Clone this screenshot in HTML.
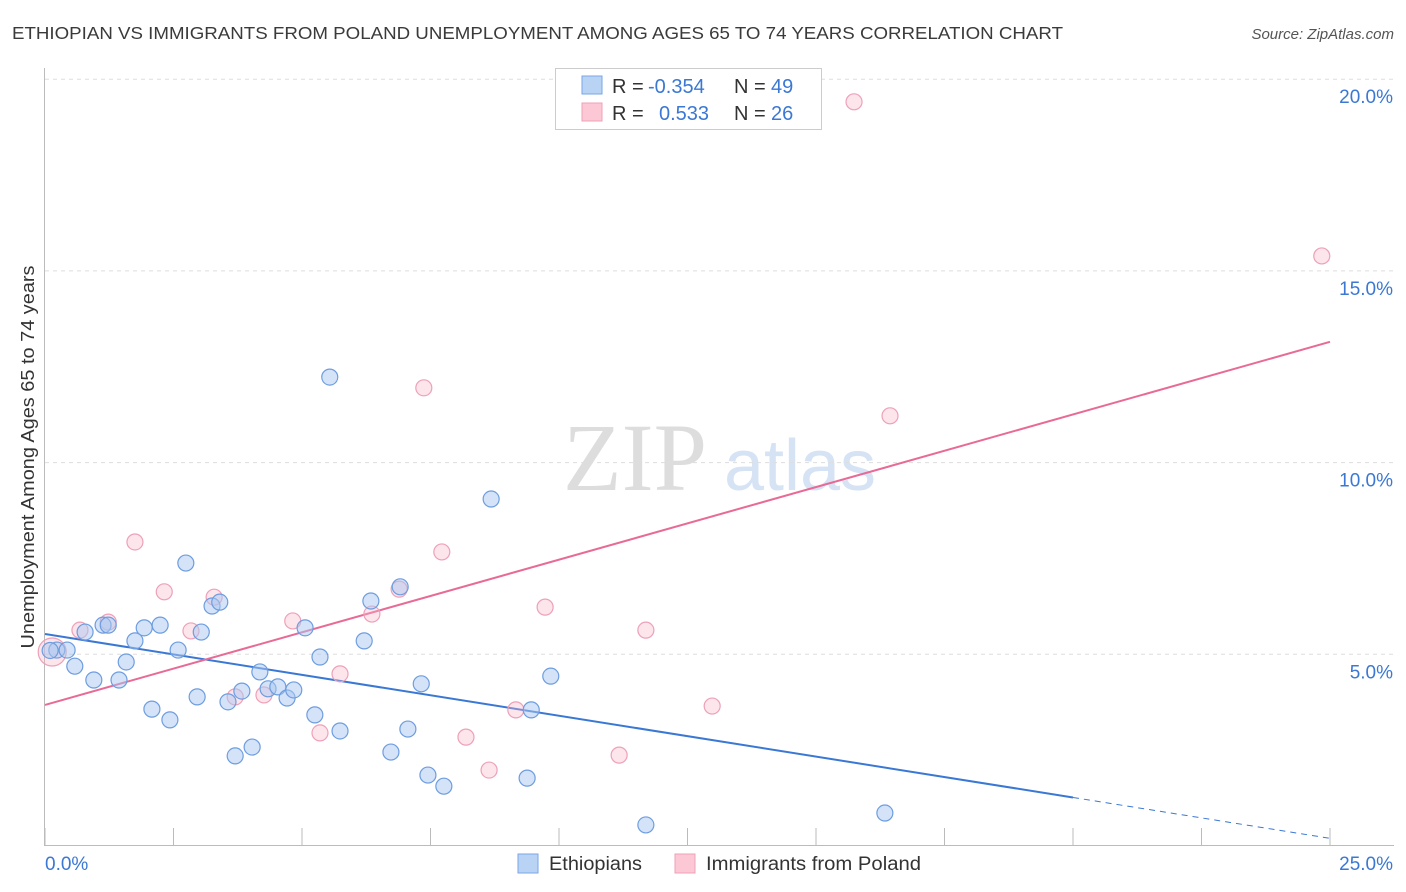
<!DOCTYPE html>
<html><head><meta charset="utf-8"><style>
body{margin:0;background:#fff;font-family:"Liberation Sans",sans-serif;}
svg{display:block}
</style></head><body>
<svg id="chart" width="1406" height="892" xmlns="http://www.w3.org/2000/svg">
<text x="12" y="39" font-size="17.5" fill="#3a3a3a" textLength="1051" lengthAdjust="spacingAndGlyphs">ETHIOPIAN VS IMMIGRANTS FROM POLAND UNEMPLOYMENT AMONG AGES 65 TO 74 YEARS CORRELATION CHART</text>
<text x="1394" y="39" font-size="15" fill="#555" text-anchor="end" font-style="italic">Source: ZipAtlas.com</text>
<text x="635" y="490" font-size="96" fill="#ddd" text-anchor="middle" font-family="Liberation Serif,serif">ZIP</text>
<text x="800" y="490" font-size="72" fill="#d6e3f5" text-anchor="middle">atlas</text>
<g id="grid"></g><g id="axes"></g><g id="lines"></g><g id="pts"></g>
<text transform="translate(34,457) rotate(-90)" font-size="18" fill="#333" text-anchor="middle" textLength="383" lengthAdjust="spacingAndGlyphs">Unemployment Among Ages 65 to 74 years</text>
<g>
<rect x="555.5" y="68.5" width="266" height="61" fill="#fff" stroke="#ccc"/>
<rect x="582" y="76" width="20" height="18" fill="#b9d3f5" stroke="#7aa6e6"/>
<rect x="582" y="103" width="20" height="18" fill="#fdc8d6" stroke="#f0a0b8"/>
<text x="612" y="93" font-size="20" fill="#333">R = <tspan x="648" fill="#3a78d4">-0.354</tspan><tspan x="734">N = </tspan><tspan x="771" fill="#3a78d4">49</tspan></text>
<text x="612" y="120" font-size="20" fill="#333">R = <tspan x="659" fill="#3a78d4">0.533</tspan><tspan x="734">N = </tspan><tspan x="771" fill="#3a78d4">26</tspan></text>
</g>
<g>
<rect x="518" y="854" width="20" height="19" fill="#b9d3f5" stroke="#7aa6e6"/>
<text x="549" y="870" font-size="19" fill="#333" textLength="93" lengthAdjust="spacingAndGlyphs">Ethiopians</text>
<rect x="675" y="854" width="20" height="19" fill="#fdc8d6" stroke="#f0a0b8"/>
<text x="706" y="870" font-size="19" fill="#333" textLength="215" lengthAdjust="spacingAndGlyphs">Immigrants from Poland</text>
</g>
</svg>
<script>
const blueX=[0.23,0.43,0.58,0.78,0.95,1.13,1.23,1.44,1.58,1.75,1.93,2.08,2.24,2.43,2.59,2.74,2.96,3.04,3.25,3.40,3.56,3.70,3.83,4.03,4.18,4.34,4.53,4.71,4.84,5.06,5.25,5.35,5.54,5.74,6.21,6.34,6.73,6.91,7.06,7.32,7.45,7.76,8.68,9.38,9.46,9.84,11.69,16.34,0.1];
const blueY=[5.11,5.11,4.69,5.58,4.33,5.76,5.76,4.33,4.80,5.35,5.69,3.57,5.76,3.29,5.11,7.38,3.89,5.58,6.26,6.36,3.76,2.35,4.04,2.58,4.54,4.10,4.15,3.86,4.07,5.69,3.42,4.93,12.23,3.00,5.35,6.39,2.45,6.76,3.05,4.23,1.85,1.56,9.05,1.77,3.55,4.43,0.55,0.86,5.1];
const pinkX=[0.14,0.68,1.23,1.75,2.32,2.84,3.29,3.70,4.26,4.82,5.35,5.74,6.36,6.89,7.37,7.72,8.19,8.64,9.16,9.73,11.17,11.69,12.98,15.74,16.44,24.84];
const pinkY=[5.06,5.63,5.84,7.93,6.63,5.61,6.49,3.89,3.94,5.87,2.95,4.49,6.05,6.70,11.95,7.67,2.84,1.98,3.55,6.23,2.37,5.63,3.65,19.41,11.22,15.39];
const blueTrend=[5.53,-0.2132];
const pinkTrend=[3.68,0.3788];
const xTicks=[0,2.5,5,7.5,10,12.5,15,17.5,20,22.5,25];
const yTicks=[5,10,15,20];
const yTickLabels=["5.0%","10.0%","15.0%","20.0%"];
const NS="http://www.w3.org/2000/svg";
const X=v=>45+v/25*1285, Y=v=>846-v/5*191.7;
function mk(p,t,a){const e=document.createElementNS(NS,t);for(const k in a)e.setAttribute(k,a[k]);document.getElementById(p).appendChild(e);return e;}
yTicks.forEach((t,i)=>{
 let l=mk('grid','line',{x1:45,x2:1394,y1:Y(t),y2:Y(t),stroke:'#ddd','stroke-dasharray':'4,4'});
 
 
 let tx=mk('grid','text',{x:1393,y:Y(t)+24,'font-size':19,fill:'#3a78d4','text-anchor':'end'});tx.textContent=yTickLabels[i];
 
 
});
let ax=mk('axes','line',{x1:44.5,x2:44.5,y1:68,y2:846,stroke:'#bbb'});


let bx=mk('axes','line',{x1:45,x2:1394,y1:845.5,y2:845.5,stroke:'#bbb'});


xTicks.forEach(t=>{let l=mk('axes','line',{x1:X(t),x2:X(t),y1:828,y2:846,stroke:'#bbb'});
 
 });
let t0=mk('axes','text',{x:45,y:870,'font-size':19,fill:'#3a78d4'});t0.textContent='0.0%';


let t1=mk('axes','text',{x:1393,y:870,'font-size':19,fill:'#3a78d4','text-anchor':'end'});t1.textContent='25.0%';


let bl=mk('lines','line',{x1:X(0),y1:Y(blueTrend[0]),x2:X(20),y2:Y(blueTrend[0]+blueTrend[1]*20),stroke:'#3a78d4','stroke-width':2});


let bd=mk('lines','line',{x1:X(20),y1:Y(blueTrend[0]+blueTrend[1]*20),x2:X(25),y2:Y(blueTrend[0]+blueTrend[1]*25),stroke:'#3a78d4','stroke-width':1,'stroke-dasharray':'6,5'});


let pl=mk('lines','line',{x1:X(0),y1:Y(pinkTrend[0]),x2:X(25),y2:Y(pinkTrend[0]+pinkTrend[1]*25),stroke:'#e86a96','stroke-width':2});


pinkX.forEach((x,i)=>{let c=mk('pts','circle',{cx:X(x),cy:Y(pinkY[i]),r:i==0?14:8,fill:'rgba(250,180,200,0.35)',stroke:'#eea0b8','stroke-width':1.2});
 
 });
blueX.forEach((x,i)=>{let c=mk('pts','circle',{cx:X(x),cy:Y(blueY[i]),r:8,fill:'rgba(170,200,240,0.5)',stroke:'#6d9de0','stroke-width':1.2});
 
 });
</script>
</body></html>
